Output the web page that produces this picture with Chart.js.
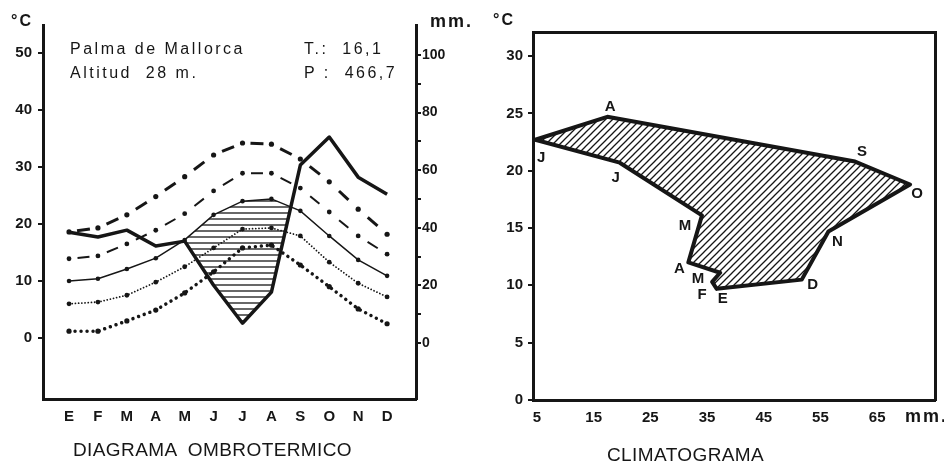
<!DOCTYPE html>
<html>
<head>
<meta charset="utf-8">
<script src="https://cdn.jsdelivr.net/npm/chart.js@4.4.1/dist/chart.umd.min.js"></script>
<style>
  body { margin: 0; background: #fff; }
  #wrap { position: relative; width: 944px; height: 465px; overflow: hidden;
          font-family: "Liberation Sans", Arial, sans-serif; color: #161616; }
  canvas { position: absolute; top: 0; }
  #ombro { left: 0; }
  #clima { left: 480px; }
  .lbl { position: absolute; line-height: 1; white-space: pre; }
  .unit { font-weight: bold; font-size: 16px; letter-spacing: 2px; }
  .station { font-size: 16px; letter-spacing: 2.5px; }
  .title { font-size: 19px; letter-spacing: 0.4px; }
</style>
</head>
<body>
<div id="wrap">
  <canvas id="ombro" width="480" height="465"></canvas>
  <canvas id="clima" width="464" height="465"></canvas>

  <div class="lbl unit" style="left:11px;top:13px">°C</div>
  <div class="lbl unit" style="left:430px;top:12px;font-size:18px">mm.</div>
  <div class="lbl station" style="left:70px;top:41px">Palma de Mallorca</div>
  <div class="lbl station" style="left:70px;top:65px">Altitud  28 m.</div>
  <div class="lbl station" style="left:304px;top:41px">T.:  16,1</div>
  <div class="lbl station" style="left:304px;top:65px">P :  466,7</div>
  <div class="lbl title" style="left:73px;top:440px">DIAGRAMA  OMBROTERMICO</div>

  <div class="lbl unit" style="left:493px;top:12px">°C</div>
  <div class="lbl unit" style="left:905px;top:407px;font-size:18px">mm.</div>
  <div class="lbl title" style="left:607px;top:445px">CLIMATOGRAMA</div>
</div>

<script>
// Meses
const months = ['E', 'F', 'M', 'A', 'M', 'J', 'J', 'A', 'S', 'O', 'N', 'D'];

// Diagrama ombrotermico: temperaturas (°C) y precipitacion (mm)
const tempMaxAbs = [18.6, 19.3, 21.6, 24.8, 28.3, 32.1, 34.2, 34.0, 31.4, 27.4, 22.6, 18.2];
const tempMax    = [13.9, 14.4, 16.5, 18.9, 21.8, 25.8, 28.9, 28.9, 26.3, 22.1, 17.9, 14.7];
const tempMean   = [10.0, 10.4, 12.1, 14.0, 17.2, 21.6, 24.0, 24.4, 22.3, 17.9, 13.7, 10.9];
const tempMin    = [6.0, 6.3, 7.5, 9.8, 12.5, 15.8, 19.1, 19.3, 17.9, 13.3, 9.6, 7.2];
const tempMinAbs = [1.2, 1.2, 3.0, 4.9, 7.9, 11.6, 15.8, 16.3, 12.8, 9.0, 5.1, 2.5];
const precip     = [38.5, 36.8, 39.2, 33.7, 35.4, 20.1, 6.9, 17.7, 61.8, 71.5, 57.6, 51.7];
const tempTicks   = [0, 10, 20, 30, 40, 50];
const precipTicks = [0, 10, 20, 30, 40, 50, 60, 70, 80, 90, 100];

// Climatograma: precipitacion (mm) y temperatura (°C) de cada mes
const climPrecip = [36.7, 35.9, 37.3, 31.7, 34.1, 19.6, 4.7, 17.4, 61.1, 70.8, 56.4, 51.7];
const climTemp   = [9.7, 10.3, 11.1, 12.0, 16.1, 20.7, 22.7, 24.7, 20.8, 18.8, 14.7, 10.5];
const climTempTicks   = [0, 5, 10, 15, 20, 25, 30];
const climPrecipTicks = [5, 15, 25, 35, 45, 55, 65];

const ink = '#161616';
const tickFont = { family: '"Liberation Sans", Arial, sans-serif', size: 15, weight: 'bold' };

// hatch patterns
function makeHatch(size, draw) {
    const c = document.createElement('canvas');
    c.width = size;
    c.height = size;
    const g = c.getContext('2d');
    g.strokeStyle = ink;
    g.lineWidth = 1.3;
    g.beginPath();
    draw(g, size);
    g.stroke();
    return g.createPattern(c, 'repeat');
}
const hatchH = makeHatch(6, (g, s) => { g.moveTo(0, 3); g.lineTo(s, 3); });
const hatchD = makeHatch(7, (g, s) => {
    g.moveTo(-1, s + 1); g.lineTo(s + 1, -1);
    g.moveTo(-1, 1); g.lineTo(1, -1);
    g.moveTo(s - 1, s + 1); g.lineTo(s + 1, s - 1);
});

const toPts = arr => arr.map((v, i) => ({ x: i, y: v }));
const fixTicks = list => scale => { scale.ticks = list.map(v => ({ value: v })); };

// one dash centred between two points, dot on each point
function dashDot(dash) {
    return {
        borderDash: c => {
            const L = Math.hypot(c.p1.x - c.p0.x, c.p1.y - c.p0.y);
            return [dash, L];
        },
        borderDashOffset: c => {
            const L = Math.hypot(c.p1.x - c.p0.x, c.p1.y - c.p0.y);
            const g = (L - dash) / 2;
            return dash + L - g + c.p0DataIndex * 1e-6;
        }
    };
}

new Chart(document.getElementById('ombro'), {
    type: 'line',
    data: {
        datasets: [
            { label: 'Precipitacion', data: toPts(precip), yAxisID: 'yP',
              borderColor: ink, borderWidth: 3.5, pointRadius: 0, borderJoinStyle: 'round', fill: false },
            { label: 'Media', data: toPts(tempMean), yAxisID: 'yT',
              borderColor: ink, borderWidth: 1.5, pointRadius: 2.3, pointBackgroundColor: ink, pointBorderWidth: 0,
              fill: { target: 0, above: hatchH, below: 'rgba(0,0,0,0)' } },
            { label: 'Max. abs.', data: toPts(tempMaxAbs), yAxisID: 'yT',
              borderColor: ink, borderWidth: 3, pointRadius: 2.6, pointBackgroundColor: ink, pointBorderWidth: 0,
              segment: dashDot(13), fill: false },
            { label: 'Max.', data: toPts(tempMax), yAxisID: 'yT',
              borderColor: ink, borderWidth: 2, pointRadius: 2.4, pointBackgroundColor: ink, pointBorderWidth: 0,
              segment: dashDot(12), fill: false },
            { label: 'Min.', data: toPts(tempMin), yAxisID: 'yT',
              borderColor: ink, borderWidth: 1.8, borderDash: [0.01, 3.2], borderCapStyle: 'round',
              pointRadius: 2.4, pointBackgroundColor: ink, pointBorderWidth: 0, fill: false },
            { label: 'Min. abs.', data: toPts(tempMinAbs), yAxisID: 'yT',
              borderColor: ink, borderWidth: 3.5, borderDash: [0.01, 6], borderCapStyle: 'round',
              pointRadius: 2.6, pointBackgroundColor: ink, pointBorderWidth: 0, fill: false },
        ]
    },
    options: {
        responsive: false,
        animation: false,
        layout: { padding: { top: 25 } },
        plugins: { legend: { display: false }, tooltip: { enabled: false } },
        scales: {
            x: {
                type: 'linear', min: -0.9, max: 12,
                afterBuildTicks: fixTicks(months.map((m, i) => i)),
                afterFit: s => { s.height = 66; },
                ticks: { callback: v => months[v], font: tickFont, color: ink, padding: 9, autoSkip: false, maxRotation: 0 },
                grid: { display: false, drawTicks: false },
                border: { color: ink, width: 3 }
            },
            yT: {
                position: 'left', min: -10.7, max: 54.9,
                afterBuildTicks: fixTicks(tempTicks),
                afterFit: s => { s.width = 43; },
                ticks: { font: tickFont, color: ink, padding: 6 },
                grid: { drawOnChartArea: false, tickLength: 5, color: ink, lineWidth: 2 },
                border: { color: ink, width: 3 }
            },
            yP: {
                position: 'right', min: -19.4, max: 110.4,
                afterBuildTicks: fixTicks(precipTicks),
                afterFit: s => { s.width = 64; },
                ticks: { callback: v => (v % 20 === 0 ? v : ''), font: { ...tickFont, size: 14 }, color: ink, padding: 1 },
                grid: { drawOnChartArea: false, tickLength: 5, color: ink, lineWidth: 2 },
                border: { color: ink, width: 3 }
            }
        }
    }
});

// labels of the months next to each vertex
const labelDx = [6, -10, -22, -9, -17, -4, 6, 3, 7, 7, 9, 11];
const labelDy = [10, 13, 6, 6, 10, 15, 18, -10, -10, 9, 10, 5];
const monthLabels = {
    id: 'monthLabels',
    afterDatasetsDraw(chart) {
        const ctx = chart.ctx;
        const pts = chart.getDatasetMeta(0).data;
        ctx.save();
        ctx.font = 'bold 15px "Liberation Sans", Arial, sans-serif';
        ctx.fillStyle = ink;
        ctx.textAlign = 'center';
        ctx.textBaseline = 'middle';
        months.forEach((m, i) => ctx.fillText(m, pts[i].x + labelDx[i], pts[i].y + labelDy[i]));
        ctx.restore();
    }
};

const climPts = climPrecip.map((p, i) => ({ x: p, y: climTemp[i] }));
climPts.push(climPts[0]);

new Chart(document.getElementById('clima'), {
    type: 'line',
    data: {
        datasets: [{
            label: 'Climatograma', data: climPts,
            borderColor: ink, borderWidth: 4, borderJoinStyle: 'round', borderCapStyle: 'round',
            pointRadius: 0, fill: 'shape', backgroundColor: hatchD
        }]
    },
    options: {
        responsive: false,
        animation: false,
        plugins: { legend: { display: false }, tooltip: { enabled: false } },
        scales: {
            x: {
                type: 'linear', min: 4.3, max: 75.2,
                afterBuildTicks: fixTicks(climPrecipTicks),
                afterFit: s => { s.height = 65; },
                ticks: { font: tickFont, color: ink, padding: 9, autoSkip: false, maxRotation: 0 },
                grid: { display: false, drawTicks: false },
                border: { color: ink, width: 3 }
            },
            xTop: {
                type: 'linear', position: 'top', min: 4.3, max: 75.2,
                afterFit: s => { s.height = 32; },
                ticks: { display: false },
                grid: { display: false, drawTicks: false },
                border: { color: ink, width: 3 }
            },
            y: {
                position: 'left', min: 0, max: 32.1,
                afterBuildTicks: fixTicks(climTempTicks),
                afterFit: s => { s.width = 53; },
                ticks: { font: tickFont, color: ink, padding: 5 },
                grid: { drawOnChartArea: false, tickLength: 5, color: ink, lineWidth: 2 },
                border: { color: ink, width: 3 }
            },
            yRight: {
                position: 'right', min: 0, max: 32.1,
                afterFit: s => { s.width = 9; },
                ticks: { display: false },
                grid: { display: false, drawTicks: false },
                border: { color: ink, width: 3 }
            }
        }
    },
    plugins: [monthLabels]
});
</script>
</body>
</html>
